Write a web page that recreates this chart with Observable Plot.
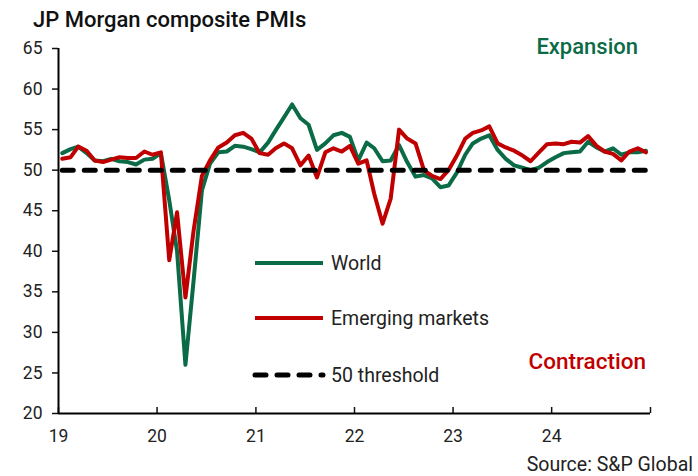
<!DOCTYPE html>
<html><head><meta charset="utf-8">
<script src="https://cdn.jsdelivr.net/npm/d3@7"></script>
<script src="https://cdn.jsdelivr.net/npm/@observablehq/plot@0.6"></script>
<style>
body{margin:0;background:#fff;font-family:Roboto,"Open Sans",sans-serif;}
#wrap{position:relative;width:698px;height:476px;overflow:hidden;background:#fff}
#chart{position:absolute;left:0;top:0}
#title{position:absolute;left:33px;top:7px;font-size:22px;font-weight:500;color:#111;white-space:nowrap}
#source{position:absolute;right:5px;top:455px;font-size:19.5px;color:#222;white-space:nowrap;line-height:20px}
#overlay{position:absolute;left:0;top:0;pointer-events:none}
</style></head><body>
<div id="wrap">
<div id="chart"></div>
<div id="title">JP Morgan composite PMIs</div>
<div id="source">Source: S&amp;P Global</div>
<svg id="overlay" width="698" height="476"></svg>
</div>
<script>
// Monthly values, Jan 2019 .. Dec 2024
const world = [
52.1,52.6,52.9,52.1,51.2,51.1,51.4,51.1,51.0,50.7,51.3,51.4,
52.1,46.3,40.0,26.0,36.3,47.5,50.8,52.2,52.3,53.0,52.9,52.6,
52.2,53.4,54.9,56.5,58.1,56.4,55.6,52.5,53.3,54.3,54.6,54.1,
51.2,53.4,52.7,51.1,51.2,53.1,51.0,49.2,49.4,49.0,47.9,48.1,
49.7,51.9,53.3,53.9,54.3,52.5,51.4,50.6,50.3,50.0,50.3,51.0,
51.6,52.1,52.2,52.3,53.5,52.8,52.3,52.7,51.9,52.2,52.2,52.4];
const emerging = [
51.4,51.6,52.9,52.4,51.2,51.0,51.3,51.6,51.5,51.5,52.3,51.9,
52.2,38.9,44.8,34.3,42.5,49.3,51.2,52.8,53.4,54.3,54.6,53.9,
52.1,51.9,52.7,53.3,52.7,50.6,51.8,49.1,52.2,52.7,52.3,53.0,
50.8,51.2,47.1,43.4,46.5,55.0,53.9,53.3,50.0,49.3,48.9,50.0,
51.8,53.9,54.6,54.9,55.4,53.3,52.8,52.4,51.8,51.1,52.2,53.2,
53.3,53.2,53.5,53.4,54.2,53.0,52.3,52.0,51.2,52.3,52.7,52.2];
const threshold = 50;
const yTicks = [20,25,30,35,40,45,50,55,60,65];
const xTickYears = [2019,2020,2021,2022,2023,2024,2025];
const xTickLabels = ["19","20","21","22","23","24",""];
const seriesNames = ["World","Emerging markets","50 threshold"];
const green = "#0a6b46", red = "#c00000";

const rows = world.map((w,i)=>({date:new Date(Date.UTC(2019,i,15)), world:w, em:emerging[i], thr:threshold}));
const tickDates = xTickYears.map(y=>new Date(Date.UTC(y,0,1)));

const chart = Plot.plot({
  width:698, height:476,
  marginLeft:58, marginRight:48, marginTop:48, marginBottom:63,
  style:{fontFamily:"Roboto, sans-serif", fontSize:"17.5px", color:"#111", background:"transparent"},
  x:{type:"utc", domain:[tickDates[0], tickDates[tickDates.length-1]]},
  y:{domain:[20,65]},
  marks:[
    Plot.axisY({ticks:yTicks, tickSize:6, tickPadding:10, tickFormat:d=>String(d), label:null, strokeWidth:1.5, fill:"#222"}),
    Plot.axisX({ticks:tickDates, tickSize:-6, tickPadding:22, tickFormat:d=>xTickLabels[xTickYears.indexOf(d.getUTCFullYear())], label:null, strokeWidth:1.5, fill:"#222"}),
    Plot.ruleY([20], {stroke:"#000", strokeWidth:2}),
    Plot.ruleX([tickDates[0]], {stroke:"#000", strokeWidth:2}),
    Plot.line(rows, {x:"date", y:"world", stroke:green, strokeWidth:4, strokeLinejoin:"round"}),
    Plot.line(rows, {x:"date", y:"em", stroke:red, strokeWidth:4, strokeLinejoin:"round"}),
    Plot.line(rows, {x:"date", y:"thr", stroke:"#000", strokeWidth:5, strokeDasharray:"11,11", strokeLinecap:"round"})
  ]
});
document.getElementById("chart").appendChild(chart);

// Legend and annotations
const ov = d3.select("#overlay");
const leg = [
  {name:seriesNames[0], color:green, dash:null, y:263},
  {name:seriesNames[1], color:red, dash:null, y:318},
  {name:seriesNames[2], color:"#000", dash:"11,11", y:375}
];
leg.forEach(l=>{
  ov.append("line").attr("x1",255).attr("x2",323).attr("y1",l.y).attr("y2",l.y)
    .attr("stroke",l.color).attr("stroke-width",l.dash?5:4)
    .attr("stroke-dasharray",l.dash).attr("stroke-linecap",l.dash?"round":"butt");
  ov.append("text").attr("x",331).attr("y",l.y).attr("dy","0.35em")
    .attr("font-family","Roboto, sans-serif").attr("font-size",19.5).attr("fill","#222").text(l.name);
});
ov.append("text").attr("x",638).attr("y",46).attr("dy","0.35em").attr("text-anchor","end")
  .attr("font-family","Roboto, sans-serif").attr("font-size",22).attr("font-weight",500).attr("fill",green).text("Expansion");
ov.append("text").attr("x",646).attr("y",361).attr("dy","0.35em").attr("text-anchor","end")
  .attr("font-family","Roboto, sans-serif").attr("font-size",22.5).attr("font-weight",500).attr("fill",red).text("Contraction");
</script>
</body></html>
